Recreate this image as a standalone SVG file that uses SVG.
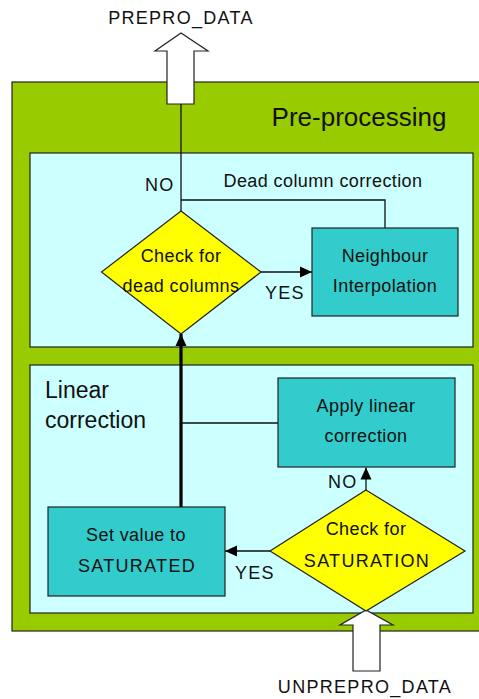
<svg xmlns="http://www.w3.org/2000/svg" width="479" height="699" viewBox="0 0 479 699">
  <style>
    text { font-family: "Liberation Sans", Arial, sans-serif; fill: #111; }
    .lbl { font-size: 18px; letter-spacing: 0.4px; }
    .caps { letter-spacing: 1.3px; }
    .mid { text-anchor: middle; }
    .panel { fill: #CCFFFF; stroke: #222; stroke-width: 1.2; }
    .box { fill: #33CCCC; stroke: #222; stroke-width: 1.2; }
    .dia { fill: #FFFF00; stroke: #222; stroke-width: 1.2; }
    .io { fill: #FFFFFF; stroke: #222; stroke-width: 1.2; }
    .wire { fill: none; stroke: #111; stroke-width: 1.3; }
    .thick { fill: none; stroke: #000; stroke-width: 3.2; }
  </style>
  <defs>
    <marker id="head" markerUnits="userSpaceOnUse" markerWidth="12" markerHeight="12" viewBox="0 0 12 12" refX="12" refY="6" orient="auto">
      <path d="M0,0.5 L12,6 L0,11.5 Z" fill="#000"/>
    </marker>
  </defs>

  <!-- outer stage -->
  <g id="preprocessing">
    <rect x="12" y="82" width="475" height="549" fill="#99CC00" stroke="#222" stroke-width="1.2"/>
    <text x="359" y="126" font-size="26" class="mid">Pre-processing</text>
  </g>

  <!-- dead column correction panel -->
  <g id="dead-column-panel">
    <rect class="panel" x="30" y="153" width="443" height="194"/>
    <text class="lbl" x="323" y="187" text-anchor="middle">Dead column correction</text>
  </g>

  <!-- linear correction panel -->
  <g id="linear-panel">
    <rect class="panel" x="30" y="365" width="443" height="248"/>
    <text x="45" y="398" font-size="23">Linear</text>
    <text x="45" y="428" font-size="23">correction</text>
  </g>

  <!-- output arrow -->
  <g id="prepro-data">
    <path class="io" d="M167,104 L167,51 L155,51 L181,33 L208,51 L194,51 L194,104 Z"/>
    <text class="lbl caps mid" x="181" y="24">PREPRO_DATA</text>
  </g>

  <!-- input arrow -->
  <g id="unprepro-data">
    <path class="io" d="M353,671 L353,625 L340,625 L366,610 L393,625 L380,625 L380,671 Z"/>
    <text class="lbl caps mid" x="365" y="693">UNPREPRO_DATA</text>
  </g>

  <!-- connectors -->
  <g id="connectors">
    <path class="wire" d="M181,104 L181,211"/>
    <path class="wire" d="M181,200 L385,200 L385,228"/>
    <path class="wire" d="M261,272 L312,272" marker-end="url(#head)"/>
    <path class="thick" d="M181,507 L181,334" marker-end="url(#head)"/>
    <path class="wire" d="M181,423 L278,423"/>
    <path class="wire" d="M366,490 L366,467.5" marker-end="url(#head)"/>
    <path class="wire" d="M270,551 L225,551" marker-end="url(#head)"/>
    <text class="lbl caps" x="145" y="191">NO</text>
    <text class="lbl caps" x="265" y="299">YES</text>
    <text class="lbl caps" x="328" y="488">NO</text>
    <text class="lbl caps" x="235" y="579">YES</text>
  </g>

  <!-- decision: dead columns -->
  <g id="check-dead-columns">
    <path class="dia" d="M181,211 L261,272 L181,334 L101.5,272 Z"/>
    <text class="lbl mid" x="181" y="262">Check for</text>
    <text class="lbl mid" x="181" y="292">dead columns</text>
  </g>

  <!-- neighbour interpolation -->
  <g id="neighbour-interpolation">
    <rect class="box" x="312" y="228" width="146" height="88"/>
    <text class="lbl mid" x="385" y="262">Neighbour</text>
    <text class="lbl mid" x="385" y="292">Interpolation</text>
  </g>

  <!-- apply linear correction -->
  <g id="apply-linear">
    <rect class="box" x="278" y="378" width="177" height="89"/>
    <text class="lbl mid" x="366" y="412">Apply linear</text>
    <text class="lbl mid" x="366" y="442">correction</text>
  </g>

  <!-- set saturated -->
  <g id="set-saturated">
    <rect class="box" x="48" y="507" width="177" height="89"/>
    <text class="lbl mid" x="136" y="541">Set value to</text>
    <text class="lbl caps mid" x="137" y="572">SATURATED</text>
  </g>

  <!-- decision: saturation -->
  <g id="check-saturation">
    <path class="dia" d="M366,490 L465,551 L366,611 L270,551 Z"/>
    <text class="lbl mid" x="366" y="535">Check for</text>
    <text class="lbl caps mid" x="367" y="567">SATURATION</text>
  </g>
</svg>
